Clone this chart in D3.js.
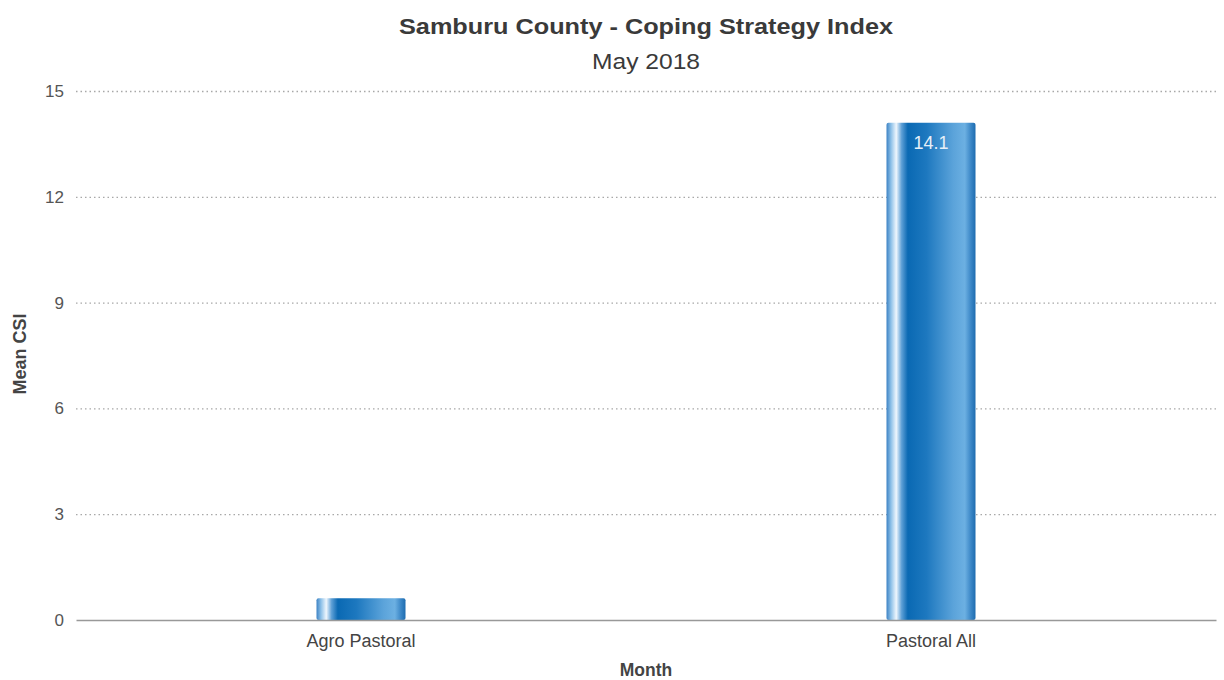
<!DOCTYPE html>
<html>
<head>
<meta charset="utf-8">
<script src="https://cdn.jsdelivr.net/npm/d3@7/dist/d3.min.js"></script>
<style>
  html, body { margin: 0; padding: 0; background: #fff; }
  svg { display: block; font-family: "Liberation Sans", Arial, sans-serif; }
</style>
</head>
<body>
<svg id="chart" width="1224" height="680"></svg>
<script>
// Mean Coping Strategy Index by livelihood zone
const categories = ["Agro Pastoral", "Pastoral All"];
const csiValues = [0.62, 14.1];
const dataLabels = [null, "14.1"];
const yTicks = [0, 3, 6, 9, 12, 15];

const svg = d3.select("#chart");
const margin = { left: 76, right: 8 };
const W = 1224;
const FONT = "\"Liberation Sans\", Arial, sans-serif";

const x = d3.scaleBand().domain(categories).range([margin.left, W - margin.right]);
const y = d3.scaleLinear().domain([0, 15]).range([620, 91]);

// Horizontal bar gradient
const defs = svg.append("defs");
const grad = defs.append("linearGradient").attr("id", "barGrad")
  .attr("x1", "0%").attr("x2", "100%").attr("y1", "0%").attr("y2", "0%");
[
  [0, "#3c82c4"], [0.05, "#8cc0e8"], [0.11, "#eef6fd"], [0.17, "#5d9fd6"],
  [0.24, "#0a69b3"], [0.45, "#1d78bf"], [0.75, "#5ba3da"], [0.88, "#6cb0e2"],
  [0.95, "#3a86c6"], [1, "#1e6cb0"]
].forEach(([o, c]) => grad.append("stop").attr("offset", o).attr("stop-color", c));

// Gridlines
svg.append("g").selectAll("line").data(yTicks.filter(t => t > 0)).join("line")
  .attr("x1", margin.left).attr("x2", W - margin.right)
  .attr("y1", d => y(d) + 0.5).attr("y2", d => y(d) + 0.5)
  .attr("stroke", "#a8a8a8").attr("stroke-width", 1.3)
  .attr("stroke-dasharray", "1.5,3");

// Y tick labels
const yAxis = d3.axisLeft(y).tickValues(yTicks).tickSize(0).tickPadding(12);
const gy = svg.append("g").attr("transform", `translate(${margin.left},0)`).call(yAxis);
gy.select(".domain").remove();
gy.selectAll("text").attr("font-size", 17).attr("fill", "#555").attr("font-family", FONT);

// Bars
const barW = 89;
svg.append("g").selectAll("rect").data(categories).join("rect")
  .attr("x", d => x(d) + x.bandwidth() / 2 - barW / 2)
  .attr("width", barW)
  .attr("y", (d, i) => y(csiValues[i]))
  .attr("height", (d, i) => y(0) - y(csiValues[i]))
  .attr("rx", 2)
  .attr("fill", "url(#barGrad)");

// Data labels inside bar tops
categories.forEach((c, i) => {
  if (dataLabels[i] === null) return;
  svg.append("text")
    .attr("x", x(c) + x.bandwidth() / 2)
    .attr("y", y(csiValues[i]) + 26)
    .attr("text-anchor", "middle")
    .attr("font-size", 18)
    .attr("fill", "#e6eff8")
    .text(dataLabels[i]);
});

// X axis
const xAxis = d3.axisBottom(x).tickSize(0).tickPadding(14);
const gx = svg.append("g").attr("transform", `translate(0,${y(0)})`).call(xAxis);
gx.select(".domain").attr("stroke", "#999").attr("stroke-width", 1.5);
gx.selectAll("text").attr("font-size", 18).attr("fill", "#444").attr("font-family", FONT);

// Axis titles
svg.append("text").attr("x", 646).attr("y", 676).attr("text-anchor", "middle")
  .attr("font-size", 17.5).attr("font-weight", "bold").attr("fill", "#444").text("Month");
svg.append("text").attr("transform", "translate(26,354) rotate(-90)")
  .attr("text-anchor", "middle").attr("font-size", 18).attr("font-weight", "bold")
  .attr("fill", "#444").text("Mean CSI");

// Title & subtitle
svg.append("text").attr("x", 646).attr("y", 34).attr("text-anchor", "middle")
  .attr("font-size", 22).attr("font-weight", "bold").attr("fill", "#3a3a3a")
  .attr("textLength", 494).attr("lengthAdjust", "spacingAndGlyphs")
  .text("Samburu County - Coping Strategy Index");
svg.append("text").attr("x", 646).attr("y", 69).attr("text-anchor", "middle")
  .attr("font-size", 22).attr("fill", "#3a3a3a")
  .attr("textLength", 108).attr("lengthAdjust", "spacingAndGlyphs")
  .text("May 2018");
</script>
</body>
</html>
